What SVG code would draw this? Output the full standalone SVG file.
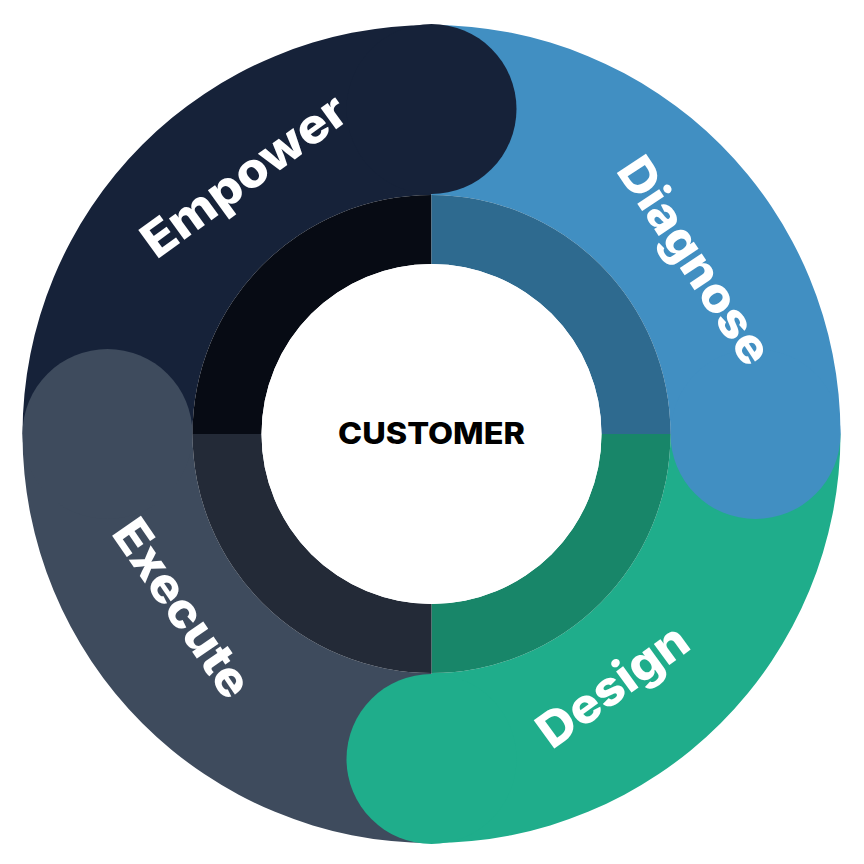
<svg xmlns="http://www.w3.org/2000/svg" width="864" height="864" viewBox="0 0 864 864">
<style>
.lbl{font-family:Inter,"Noto Sans","DejaVu Sans",sans-serif;font-weight:800;font-size:48px;fill:#ffffff;text-anchor:middle}
.ctr{font-family:Inter,"Noto Sans","DejaVu Sans",sans-serif;font-weight:800;font-size:30px;fill:#000000;text-anchor:middle}
</style>
<rect width="864" height="864" fill="#ffffff"/>
<g id="bands">
<path id="band-empower" d="M22.5,434 A409,409 0 0 1 431.5,25 L431.5,195 A239,239 0 0 0 192.5,434 Z" fill="#162239"/>
<path id="band-diagnose" d="M431.5,25 A409,409 0 0 1 840.5,434 L670.5,434 A239,239 0 0 0 431.5,195 Z" fill="#418fc2"/>
<path id="band-design" d="M840.5,434 A409,409 0 0 1 431.5,843 L431.5,673 A239,239 0 0 0 670.5,434 Z" fill="#1fad8b"/>
<path id="band-execute" d="M431.5,843 A409,409 0 0 1 22.5,434 L192.5,434 A239,239 0 0 0 431.5,673 Z" fill="#3e4b5d"/>
</g>
<g id="empower">
<circle cx="431.5" cy="109" r="85" fill="#162239"/>
<path d="M192.5,434 A239,239 0 0 1 431.5,195 L431.5,264 A170,170 0 0 0 261.5,434 Z" fill="#070b14"/>
<text class="lbl" transform="translate(243.7,175) rotate(-36)" y="17.5" textLength="241" lengthAdjust="spacingAndGlyphs">Empower</text>
</g>
<g id="diagnose">
<circle cx="755.5" cy="434" r="85" fill="#418fc2"/>
<path d="M431.5,195 A239,239 0 0 1 670.5,434 L601.5,434 A170,170 0 0 0 431.5,264 Z" fill="#2e6a8f"/>
<text class="lbl" transform="translate(695.6,260.1) rotate(56.5)" y="17.5" textLength="238" lengthAdjust="spacingAndGlyphs">Diagnose</text>
</g>
<g id="design">
<circle cx="431.5" cy="759" r="85" fill="#1fad8b"/>
<path d="M670.5,434 A239,239 0 0 1 431.5,673 L431.5,604 A170,170 0 0 0 601.5,434 Z" fill="#188669"/>
<text class="lbl" transform="translate(612.1,685) rotate(-36)" y="17.5" textLength="174" lengthAdjust="spacingAndGlyphs">Design</text>
</g>
<g id="execute">
<circle cx="107.5" cy="434" r="85" fill="#3e4b5d"/>
<path d="M431.5,673 A239,239 0 0 1 192.5,434 L261.5,434 A170,170 0 0 0 431.5,604 Z" fill="#232a37"/>
<text class="lbl" transform="translate(183.1,607.8) rotate(55.5)" y="17.5" textLength="205" lengthAdjust="spacingAndGlyphs">Execute</text>
</g>
<g id="customer">
<circle cx="431.5" cy="434" r="170" fill="#ffffff"/>
<text class="ctr" x="431.5" y="443.5" textLength="187" lengthAdjust="spacingAndGlyphs">CUSTOMER</text>
</g>
</svg>
